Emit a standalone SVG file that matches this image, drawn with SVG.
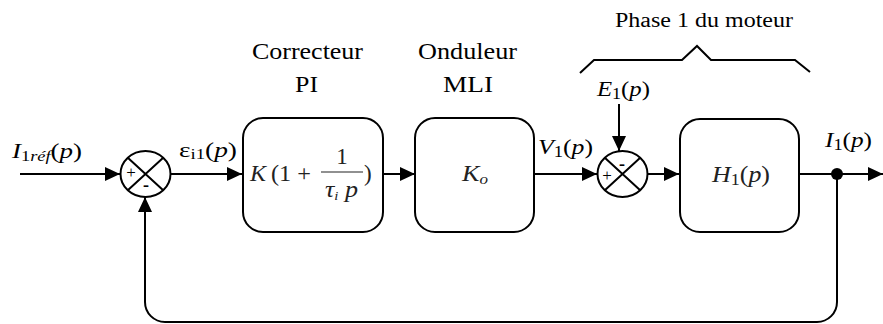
<svg xmlns="http://www.w3.org/2000/svg" width="883" height="324" viewBox="0 0 883 324">
<style>
.ln{fill:none;stroke:#000;stroke-width:2}
.blk{fill:#fff;stroke:#000;stroke-width:2}
.sum{fill:#fff;stroke:#000;stroke-width:2}
.t{fill:#000}
.bt{fill:#222}
.i{font-style:italic}
</style>
<defs>
<marker id="ah" markerUnits="userSpaceOnUse" markerWidth="16" markerHeight="16" viewBox="0 0 16 16" refX="15" refY="8" orient="auto">
<path d="M0,1 L15,8 L0,15 Z" fill="#000"/>
</marker>
</defs>
<g id="connectors">
<path class="ln" d="M20,174 H120" marker-end="url(#ah)"/>
<path class="ln" d="M171,174 H242" marker-end="url(#ah)"/>
<path class="ln" d="M383,174 H415" marker-end="url(#ah)"/>
<path class="ln" d="M534,174 H597" marker-end="url(#ah)"/>
<path class="ln" d="M619,104 V151" marker-end="url(#ah)"/>
<path class="ln" d="M648,174 H679" marker-end="url(#ah)"/>
<path class="ln" d="M799,174 H883" marker-end="url(#ah)"/>
<path class="ln" d="M837,174 V302 A20,20 0 0 1 817,322 H165 A20,20 0 0 1 145,302 V197" marker-end="url(#ah)"/>
<circle cx="837" cy="174" r="6" fill="#000"/>
</g>
<g font-family="Liberation Serif, Times New Roman, serif">
<g id="brace">
<path class="ln" d="M580,73 L594,60 H682 L697,46 L711,60 H795 L810,72"/>
<text class="t" x="615" y="27" font-size="20" textLength="178" lengthAdjust="spacingAndGlyphs">Phase 1 du moteur</text>
</g>
<g id="sum1">
<ellipse class="sum" cx="145.5" cy="174" rx="25" ry="23"/>
<path class="ln" d="M127.8,157.7 L163.2,190.3 M163.2,157.7 L127.8,190.3"/>
<text class="t" x="131" y="178" font-size="17" text-anchor="middle">+</text>
<text class="t" x="146" y="191" font-size="18" font-weight="bold" text-anchor="middle">-</text>
</g>
<g id="sum2">
<ellipse class="sum" cx="622.5" cy="174" rx="25" ry="23"/>
<path class="ln" d="M604.8,157.7 L640.2,190.3 M640.2,157.7 L604.8,190.3"/>
<text class="t" x="607" y="181" font-size="17" text-anchor="middle">+</text>
<text class="t" x="622" y="170" font-size="18" font-weight="bold" text-anchor="middle">-</text>
</g>
<g id="correcteur">
<rect class="blk" x="243" y="118" width="140" height="114" rx="20" ry="20"/>
<text class="t" x="252" y="59" font-size="24" textLength="111" lengthAdjust="spacingAndGlyphs">Correcteur</text>
<text class="t" x="295" y="92" font-size="24" textLength="23" lengthAdjust="spacingAndGlyphs">PI</text>
<text class="bt i" x="250" y="181" font-size="23" textLength="16" lengthAdjust="spacingAndGlyphs">K</text>
<text class="bt" x="271" y="181" font-size="23" textLength="40" lengthAdjust="spacingAndGlyphs">(1 +</text>
<line x1="321" y1="172" x2="363" y2="172" stroke="#222" stroke-width="1.2"/>
<text class="bt" x="342" y="164" font-size="23" text-anchor="middle">1</text>
<text class="bt i" x="325" y="197" font-size="23" textLength="33" lengthAdjust="spacingAndGlyphs">τ<tspan font-size="13" dy="3">i</tspan><tspan dy="-3"> p</tspan></text>
<text class="bt" x="364" y="181" font-size="23">)</text>
</g>
<g id="onduleur">
<rect class="blk" x="415" y="118" width="119" height="114" rx="20" ry="20"/>
<text class="t" x="418" y="59" font-size="24" textLength="99" lengthAdjust="spacingAndGlyphs">Onduleur</text>
<text class="t" x="443" y="92" font-size="24" textLength="50" lengthAdjust="spacingAndGlyphs">MLI</text>
<text class="bt i" x="462" y="181" font-size="23" textLength="26" lengthAdjust="spacingAndGlyphs">K<tspan font-size="15" dy="3">o</tspan></text>
</g>
<g id="phase">
<rect class="blk" x="680" y="119" width="119" height="113" rx="20" ry="20"/>
<text class="bt" x="712" y="182" font-size="23" textLength="58" lengthAdjust="spacingAndGlyphs"><tspan class="i">H</tspan><tspan font-size="16" dy="3">1</tspan><tspan dy="-3">(</tspan><tspan class="i">p</tspan>)</text>
</g>
<g id="labels">
<text class="t" x="12" y="158" font-size="22" textLength="70" lengthAdjust="spacingAndGlyphs"><tspan class="i">I</tspan><tspan font-size="15" dy="3">1</tspan><tspan class="i" font-size="15">réf</tspan><tspan dy="-3">(</tspan><tspan class="i">p</tspan>)</text>
<text class="t" x="179" y="157" font-size="22" textLength="58" lengthAdjust="spacingAndGlyphs">ε<tspan font-size="15" dy="2">i1</tspan><tspan dy="-2">(</tspan><tspan class="i">p</tspan>)</text>
<text class="t" x="538" y="154" font-size="22" textLength="55" lengthAdjust="spacingAndGlyphs"><tspan class="i">V</tspan><tspan font-size="16" dy="3">1</tspan><tspan dy="-3">(</tspan><tspan class="i">p</tspan>)</text>
<text class="t" x="597" y="96" font-size="22" textLength="53" lengthAdjust="spacingAndGlyphs"><tspan class="i">E</tspan><tspan font-size="16" dy="3">1</tspan><tspan dy="-3">(</tspan><tspan class="i">p</tspan>)</text>
<text class="t" x="825" y="147" font-size="22" textLength="47" lengthAdjust="spacingAndGlyphs"><tspan class="i">I</tspan><tspan font-size="16" dy="3">1</tspan><tspan dy="-3">(</tspan><tspan class="i">p</tspan>)</text>
</g>
</g>
</svg>
